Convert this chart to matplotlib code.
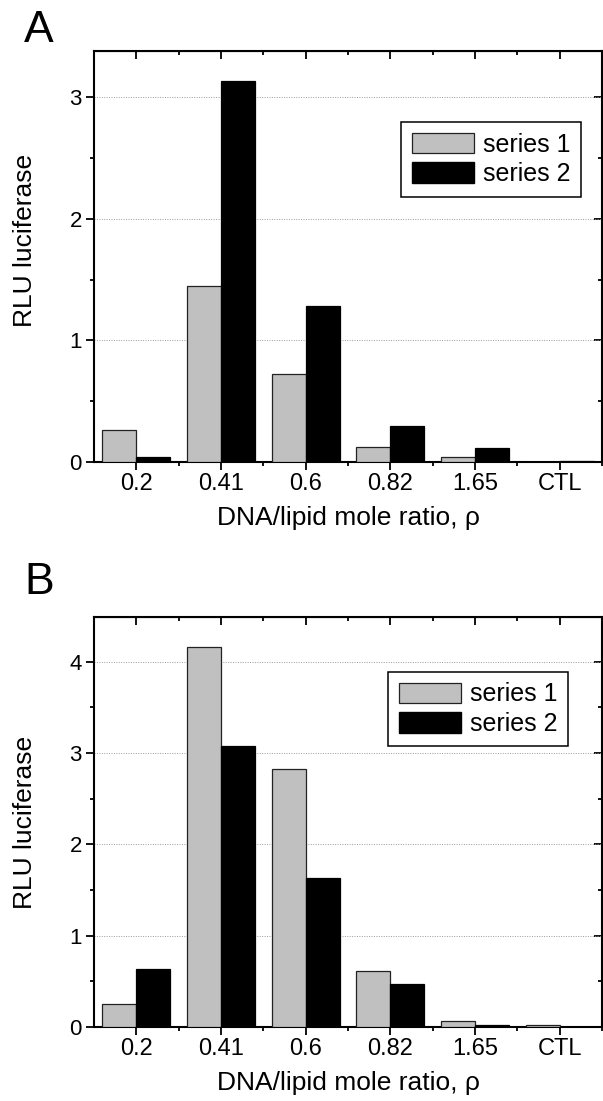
import numpy as np
import matplotlib
matplotlib.use("Agg")
import matplotlib.pyplot as plt
from matplotlib.patches import Patch
from matplotlib.ticker import MultipleLocator

plt.rcParams['font.family'] = ['Liberation Sans', 'DejaVu Sans']

ratios = ['0.2', '0.41', '0.6', '0.82', '1.65', 'CTL']
series_names = ['series 1', 'series 2']

# panel A
a_series1 = [0.26, 1.45, 0.72, 0.12, 0.04, 0.0]
a_series2 = [0.04, 3.13, 1.28, 0.30, 0.115, 0.005]
# panel B
b_series1 = [0.25, 4.16, 2.82, 0.61, 0.07, 0.02]
b_series2 = [0.63, 3.08, 1.63, 0.47, 0.025, 0.003]

fig = plt.figure(figsize=(6.03, 11.01), dpi=100)
W, H = 603, 1101


def add_axes_px(left, top, right, bottom):
    return fig.add_axes([left / W, 1 - bottom / H, (right - left) / W, (bottom - top) / H])


def style_ticks(axis_obj, direction, **kw):
    axis_obj.tick_params(which='both', direction=direction, width=1.3, **kw)
    axis_obj.tick_params(which='major', length=5.8)
    axis_obj.tick_params(which='minor', length=3.0)


def draw_panel(ax, s1, s2, ytop, legend_anchor, ylabel_y):
    x = np.arange(len(ratios))
    w = 0.4
    ax.bar(x - w / 2, s1, w, color='#c0c0c0', edgecolor='#222222', linewidth=0.9, zorder=3)
    ax.bar(x + w / 2, s2, w, color='black', edgecolor='black', linewidth=0.9, zorder=3)
    ax.set_xlim(-0.5, 5.5)
    ax.set_ylim(0, ytop)
    ax.set_xticks(x)
    ax.set_xticklabels(ratios)
    ax.set_xticks(x + 0.5, minor=True)
    ax.yaxis.set_major_locator(MultipleLocator(1))
    ax.yaxis.set_minor_locator(MultipleLocator(0.5))
    ax.yaxis.grid(True, linestyle=(0, (1, 1.5)), color='#9a9a9a', linewidth=0.7, zorder=0)
    ax.set_axisbelow(True)
    for sp in ax.spines.values():
        sp.set_linewidth(1.5)
    style_ticks(ax, 'out')
    ax.tick_params(axis='x', labelsize=17, pad=2)
    ax.tick_params(axis='y', labelsize=16, pad=3)

    # mirrored ticks on the top and right sides point inward
    sec_x = ax.secondary_xaxis('top')
    sec_x.set_xticks(x)
    sec_x.set_xticks(x + 0.5, minor=True)
    style_ticks(sec_x, 'in', labeltop=False)
    sec_y = ax.secondary_yaxis('right')
    sec_y.yaxis.set_major_locator(MultipleLocator(1))
    sec_y.yaxis.set_minor_locator(MultipleLocator(0.5))
    style_ticks(sec_y, 'in', labelright=False)

    ax.set_xlabel('DNA/lipid mole ratio, ρ', fontsize=19)
    ax.set_ylabel('RLU luciferase', fontsize=19)
    ax.yaxis.set_label_coords(-0.112, ylabel_y)
    ax.xaxis.set_label_coords(0.5, -0.107)

    handles = [Patch(facecolor='#c0c0c0', edgecolor='#222222', linewidth=0.9),
               Patch(facecolor='black', edgecolor='black')]
    leg = ax.legend(handles, series_names, loc='upper right', bbox_to_anchor=legend_anchor,
                    fontsize=18, frameon=True, fancybox=False, framealpha=1,
                    edgecolor='black', borderaxespad=0, handlelength=2.5,
                    handleheight=0.88, handletextpad=0.35, labelspacing=0.22,
                    borderpad=0.42)
    leg.get_frame().set_linewidth(1.1)


ax_a = add_axes_px(94, 51, 602, 462)
draw_panel(ax_a, a_series1, a_series2, 3.38, (0.959, 0.827), 0.54)

ax_b = add_axes_px(94, 617, 602, 1027)
draw_panel(ax_b, b_series1, b_series2, 4.49, (0.933, 0.866), 0.5)

fig.text(39 / W, 1 - 31 / H, 'A', fontsize=32, ha='center', va='center')
fig.text(39 / W, 1 - 582 / H, 'B', fontsize=32, ha='center', va='center')

fig.savefig('out.png', dpi=100)
